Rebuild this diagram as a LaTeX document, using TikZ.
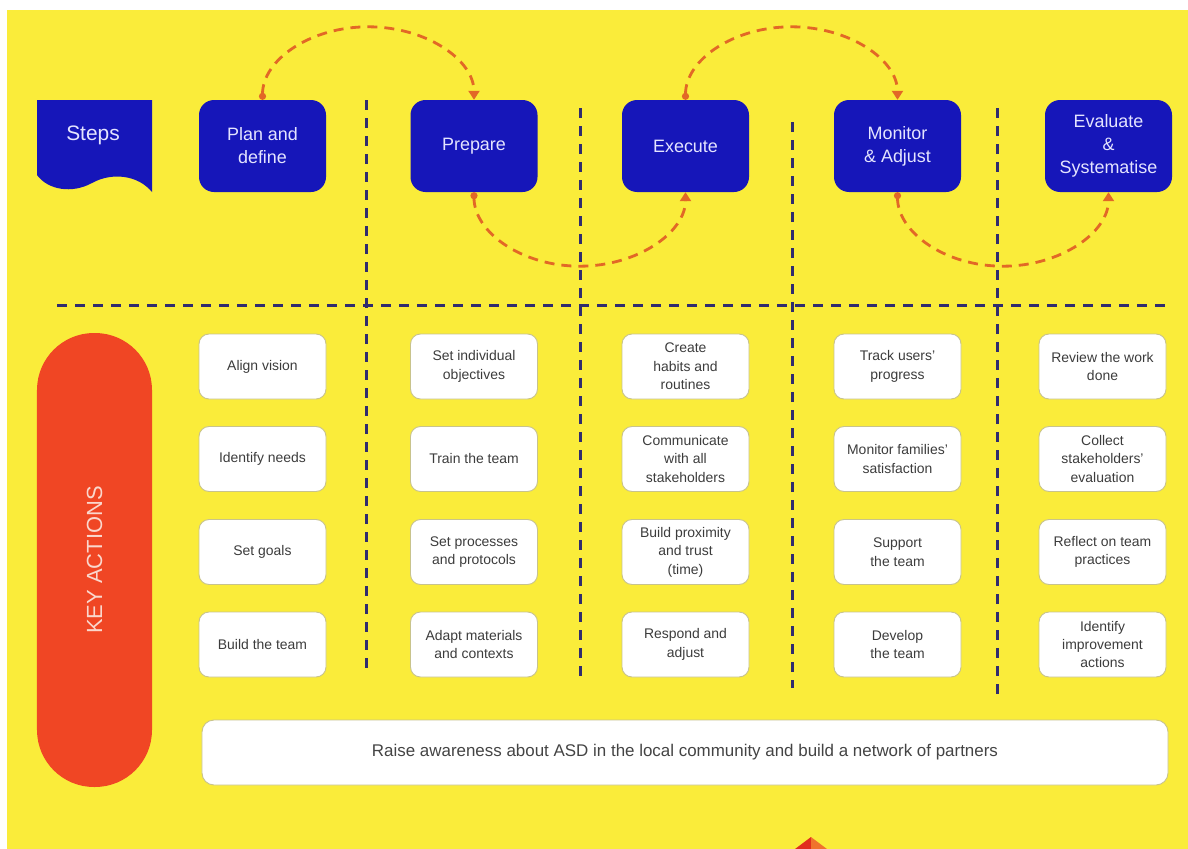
\documentclass[tikz,border=0pt]{standalone}
\usepackage{fontspec}
\setmainfont{Liberation Sans}
\usetikzlibrary{arrows.meta,calc}
\definecolor{bgyellow}{RGB}{250,236,58}
\definecolor{stepblue}{RGB}{22,22,185}
\definecolor{divnavy}{RGB}{48,44,110}
\definecolor{arcorange}{RGB}{226,104,38}
\definecolor{pillred}{RGB}{240,70,36}
\definecolor{steptext}{RGB}{228,228,255}
\definecolor{pilltext}{RGB}{250,215,205}
\definecolor{acttext}{RGB}{60,60,60}
\definecolor{actborder}{RGB}{200,195,140}
\definecolor{tipred}{RGB}{225,45,30}
\definecolor{tiporange}{RGB}{240,115,45}
\begin{document}
\begin{tikzpicture}[x=1bp,y=-1bp,
 stepbox/.style={fill=stepblue, rounded corners=15bp, minimum width=127bp, minimum height=92bp, inner sep=0pt, align=center, text=steptext, font=\fontsize{18}{23}\selectfont},
 actbox/.style={draw=actborder, line width=0.9bp, fill=white, rounded corners=10bp, minimum width=127bp, minimum height=65bp, inner sep=0pt, align=center, text=acttext, font=\fontsize{14}{18.5}\selectfont},
 divider/.style={draw=divnavy, line width=3bp, dash pattern=on 10bp off 8bp},
 looparc/.style={draw=arcorange, line width=2.8bp, dash pattern=on 10bp off 7bp, arrows={Circle[length=7bp]-Triangle[length=9bp,width=11bp]}},
]
\useasboundingbox (0,0) rectangle (1188,849);
\fill[white] (0,0) rectangle (1188,849);
\fill[bgyellow] (7,10) rectangle (1188,849);

% dividers
\draw[divider] (57,305) -- (1172,305);
\draw[divider] (366,100) -- (366,668);
\draw[divider] (580,108) -- (580,680);
\draw[divider] (792,122) -- (792,688);
\draw[divider] (997,108) -- (997,697);

% steps banner
\fill[stepblue] (37,100) -- (152,100) -- (152,192) .. controls (138,175) and (112,172) .. (92,183) .. controls (72,194) and (48,190) .. (37,175) -- cycle;
\node[text=steptext, font=\fontsize{21}{25}\selectfont] (steps) at (93,135) {Steps};

% step boxes
\node[stepbox] (plan) at (262.5,146) {Plan and\\define};
\node[stepbox] (prep) at (474,146) {Prepare};
\node[stepbox] (exec) at (685.5,146) {Execute};
\node[stepbox] (moni) at (897.5,146) {Monitor\\\& Adjust};
\node[stepbox] (eval) at (1108.5,146) {Evaluate\\\&\\Systematise};

% key actions pill
\node[fill=pillred, rounded corners=57bp, minimum width=454bp, minimum height=115bp, inner sep=0pt, rotate=90, text=pilltext, font=\fontsize{22}{26}\selectfont] (keyact) at (94.5,560) {KEY ACTIONS};

% action boxes
\node[actbox] (a11) at (262.5,366.5) {Align vision};
\node[actbox] (a12) at (262.5,459) {Identify needs};
\node[actbox] (a13) at (262.5,552) {Set goals};
\node[actbox] (a14) at (262.5,644.5) {Build the team};

\node[actbox] (a21) at (474,366.5) {Set individual\\objectives};
\node[actbox] (a22) at (474,459) {Train the team};
\node[actbox] (a23) at (474,552) {Set processes\\and protocols};
\node[actbox] (a24) at (474,644.5) {Adapt materials\\and contexts};

\node[actbox] (a31) at (685.5,366.5) {Create\\habits and\\routines};
\node[actbox] (a32) at (685.5,459) {Communicate\\with all\\stakeholders};
\node[actbox] (a33) at (685.5,552) {Build proximity\\and trust\\(time)};
\node[actbox] (a34) at (685.5,644.5) {Respond and\\adjust};

\node[actbox] (a41) at (897.5,366.5) {Track users'\\progress};
\node[actbox] (a42) at (897.5,459) {Monitor families'\\satisfaction};
\node[actbox] (a43) at (897.5,552) {Support\\the team};
\node[actbox] (a44) at (897.5,644.5) {Develop\\the team};

\node[actbox] (a51) at (1102.5,366.5) {Review the work\\done};
\node[actbox] (a52) at (1102.5,459) {Collect\\stakeholders'\\evaluation};
\node[actbox] (a53) at (1102.5,552) {Reflect on team\\practices};
\node[actbox] (a54) at (1102.5,644.5) {Identify\\improvement\\actions};

% bottom banner
\node[actbox, minimum width=966bp, rounded corners=12bp, font=\fontsize{17}{20}\selectfont, text={rgb,255:red,68;green,68;blue,68}] (banner) at (685,752.5) {Raise awareness about ASD in the local community and build a network of partners};

% loop arcs
\draw[looparc] (plan.north) .. controls +(0,-40) and +(-58,0) .. ($(plan.north)!0.5!(prep.north)+(0,-73)$) .. controls +(58,0) and +(0,-40) .. (prep.north);
\draw[looparc] (prep.south) .. controls +(0,40) and +(-58,0) .. ($(prep.south)!0.5!(exec.south)+(0,74)$) .. controls +(58,0) and +(0,40) .. (exec.south);
\draw[looparc] (exec.north) .. controls +(0,-40) and +(-58,0) .. ($(exec.north)!0.5!(moni.north)+(0,-73)$) .. controls +(58,0) and +(0,-40) .. (moni.north);
\draw[looparc] (moni.south) .. controls +(0,40) and +(-58,0) .. ($(moni.south)!0.5!(eval.south)+(0,74)$) .. controls +(58,0) and +(0,40) .. (eval.south);

% cropped red tip at the bottom
\fill[tipred] (811,837) -- (795,849) -- (811,849) -- cycle;
\fill[tiporange] (811,837) -- (827,849) -- (811,849) -- cycle;
\end{tikzpicture}
\end{document}
